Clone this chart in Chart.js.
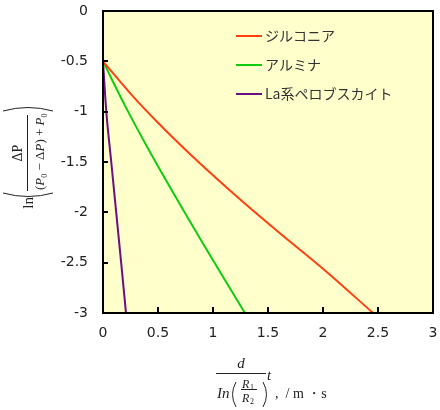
<!DOCTYPE html>
<html>
<head>
<meta charset="utf-8">
<script src="https://cdn.jsdelivr.net/npm/chart.js@4/dist/chart.umd.min.js"></script>
<style>
  body { margin: 0; background: #fff; }
  #wrap { width: 440px; height: 410px; }
</style>
</head>
<body>
<div id="wrap"><canvas id="chart" width="440" height="410"></canvas></div>
<script>
// series names
const seriesNames = ['ジルコニア', 'アルミナ', 'La系ペロブスカイト'];
const seriesColors = ['#ff4010', '#10cc10', '#6a1080'];

// zirconia
const zrX = [0, 0.25, 0.5, 0.8, 1.245, 1.6, 2.0, 2.455];
const zrY = [-0.5, -0.82, -1.11, -1.43, -1.87, -2.2, -2.56, -3.0];
// alumina
const alX = [0, 0.2, 0.427, 0.85, 1.29];
const alY = [-0.5, -0.94, -1.40, -2.2, -3.0];
// La perovskite
const laX = [0, 0.03, 0.075, 0.12, 0.165, 0.209];
const laY = [-0.5, -1.0, -1.5, -2.0, -2.5, -3.0];

const xTicks = [0, 0.5, 1, 1.5, 2, 2.5, 3];
const yTicks = [0, -0.5, -1, -1.5, -2, -2.5, -3];

function pts(xs, ys) {
  return xs.map((x, i) => ({ x: x, y: ys[i] }));
}

const allX = [zrX, alX, laX];
const allY = [zrY, alY, laY];

const datasets = seriesNames.map((name, i) => ({
  label: name,
  data: pts(allX[i], allY[i]),
  borderColor: seriesColors[i],
  borderWidth: 2,
  pointRadius: 0,
  cubicInterpolationMode: 'monotone',
  fill: false
}));

// background + frame + inner ticks
const framePlugin = {
  id: 'frame',
  beforeDraw(chart) {
    const { ctx, chartArea: a } = chart;
    ctx.save();
    ctx.fillStyle = '#ffffcc';
    ctx.fillRect(a.left, a.top, a.right - a.left, a.bottom - a.top);
    ctx.restore();
  },
  afterDatasetsDraw(chart) {
    const { ctx, chartArea: a, scales } = chart;
    ctx.save();
    ctx.strokeStyle = '#000';
    ctx.lineWidth = 2;
    ctx.strokeRect(a.left, a.top, a.right - a.left, a.bottom - a.top);
    ctx.beginPath();
    xTicks.slice(1, -1).forEach(v => {
      const px = Math.round(scales.x.getPixelForValue(v));
      ctx.moveTo(px, a.bottom);
      ctx.lineTo(px, a.bottom - 6);
    });
    yTicks.slice(1, -1).forEach(v => {
      const py = Math.round(scales.y.getPixelForValue(v));
      ctx.moveTo(a.left, py);
      ctx.lineTo(a.left + 5, py);
    });
    ctx.stroke();
    ctx.restore();
  }
};

// legend inside plot
const legendPlugin = {
  id: 'innerLegend',
  afterDraw(chart) {
    const ctx = chart.ctx;
    ctx.save();
    ctx.font = '14px "Noto Sans CJK JP"';
    ctx.textBaseline = 'middle';
    chart.data.datasets.forEach((ds, i) => {
      const y = 36 + i * 29;
      ctx.strokeStyle = ds.borderColor;
      ctx.lineWidth = 2;
      ctx.beginPath();
      ctx.moveTo(236, y);
      ctx.lineTo(262, y);
      ctx.stroke();
      ctx.fillStyle = '#333';
      ctx.fillText(ds.label, 265, y);
    });
    ctx.restore();
  }
};

// axis titles (formulas)
const titlePlugin = {
  id: 'formulaTitles',
  afterDraw(chart) {
    const ctx = chart.ctx;
    ctx.save();
    ctx.fillStyle = '#222';
    ctx.strokeStyle = '#222';

    // x title: d / In(R1/R2) t , / m・s
    ctx.textAlign = 'center';
    ctx.textBaseline = 'alphabetic';
    ctx.font = 'italic 15px "Liberation Serif"';
    ctx.fillText('d', 241, 368);
    ctx.lineWidth = 1;
    ctx.beginPath();
    ctx.moveTo(216, 373.5);
    ctx.lineTo(266, 373.5);
    ctx.stroke();
    ctx.textAlign = 'left';
    ctx.fillText('t', 267, 380);
    ctx.fillText('In', 217, 398);
    // parentheses around R1/R2
    ctx.beginPath();
    ctx.moveTo(236, 382);
    ctx.quadraticCurveTo(229, 394.5, 236, 407);
    ctx.moveTo(263, 382);
    ctx.quadraticCurveTo(270, 394.5, 263, 407);
    ctx.stroke();
    ctx.font = 'italic 12px "Liberation Serif"';
    ctx.fillText('R', 242, 388);
    ctx.fillText('R', 242, 402);
    ctx.font = '8px "Liberation Serif"';
    ctx.fillText('1', 250, 390);
    ctx.fillText('2', 250, 404);
    ctx.beginPath();
    ctx.moveTo(241, 389.5);
    ctx.lineTo(257, 389.5);
    ctx.stroke();
    ctx.font = '14px "Liberation Serif"';
    ctx.fillText(',  / m ・s', 275, 398);

    // y title, rotated: ln( ΔP / ((P0 − ΔP) + P0) )
    ctx.translate(27, 153);
    ctx.rotate(-Math.PI / 2);
    ctx.textAlign = 'center';
    ctx.font = '14px "Liberation Serif"';
    ctx.fillText('ΔP', 0, -5);
    ctx.beginPath();
    ctx.moveTo(-38, 0.5);
    ctx.lineTo(38, 0.5);
    ctx.stroke();
    ctx.textAlign = 'left';
    let u = -37;
    const parts = [['(', 13, 'n'], ['P', 13, 'i'], ['0', 8, 's'], [' − Δ', 13, 'n'], ['P', 13, 'i'], [') + ', 13, 'n'], ['P', 13, 'i'], ['0', 8, 's']];
    parts.forEach(p => {
      ctx.font = (p[2] === 'i' ? 'italic ' : '') + p[1] + 'px "Liberation Serif"';
      const dy = p[2] === 's' ? 20 : 17;
      ctx.fillText(p[0], u, dy);
      u += ctx.measureText(p[0]).width;
    });
    // big parentheses
    ctx.lineWidth = 1;
    ctx.beginPath();
    ctx.moveTo(-40, -24);
    ctx.quadraticCurveTo(-47, 1, -40, 26);
    ctx.moveTo(42, -24);
    ctx.quadraticCurveTo(49, 1, 42, 26);
    ctx.stroke();
    ctx.font = '15px "Liberation Serif"';
    ctx.textAlign = 'right';
    ctx.fillText('ln', -44, 6);
    ctx.restore();
  }
};

new Chart(document.getElementById('chart'), {
  type: 'line',
  data: { datasets: datasets },
  options: {
    responsive: false,
    animation: false,
    layout: { padding: { left: 0, right: 7, top: 11, bottom: 0 } },
    plugins: {
      legend: { display: false },
      tooltip: { enabled: false }
    },
    scales: {
      x: {
        type: 'linear',
        min: 0,
        max: 3,
        afterFit: s => { s.height = 97; s.paddingLeft = 0; s.paddingRight = 0; },
        afterBuildTicks: s => { s.ticks = xTicks.map(v => ({ value: v })); },
        ticks: {
          padding: 12,
          color: '#222',
          font: { family: 'DejaVu Sans', size: 14 },
          callback: v => String(v)
        },
        grid: { display: false, drawTicks: false },
        border: { display: false }
      },
      y: {
        type: 'linear',
        min: -3,
        max: 0,
        afterFit: s => { s.width = 103; s.paddingTop = 0; s.paddingBottom = 0; },
        afterBuildTicks: s => { s.ticks = yTicks.map(v => ({ value: v })); },
        ticks: {
          padding: 15,
          color: '#222',
          font: { family: 'DejaVu Sans', size: 14 },
          callback: v => String(v)
        },
        grid: { display: false, drawTicks: false },
        border: { display: false }
      }
    }
  },
  plugins: [framePlugin, legendPlugin, titlePlugin]
});
</script>
</body>
</html>
